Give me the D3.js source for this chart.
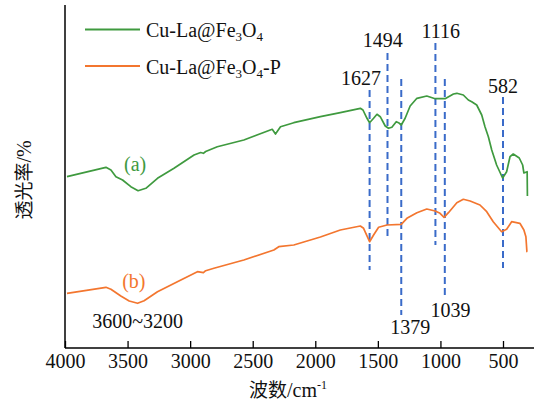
<!DOCTYPE html>
<html><head><meta charset="utf-8">
<script src="https://cdn.jsdelivr.net/npm/d3@7"></script>
<style>body{margin:0;background:#fff}svg{display:block;font-family:'Liberation Serif','Times New Roman',serif}</style>
</head><body>
<svg id="c" width="534" height="403"></svg>
<script>
// ---- data (wavenumber cm-1, transmittance arbitrary units) ----
const seriesNames = ["Cu-La@Fe3O4", "Cu-La@Fe3O4-P"];
const seriesColors = ["#3f9a3f", "#f3762f"];
const waveA = [3984,3673,3633,3593,3540,3474,3416,3354,3261,3129,2969,2916,2894,2876,2783,2571,2344,2318,2278,2172,1959,1800,1640,1619,1587,1566,1534,1507,1481,1441,1415,1388,1353,1335,1313,1282,1242,1188,1109,1042,963,896,869,817,777,750,710,670,644,617,590,551,503,471,444,418,370,343,333,307,305];
const valA  = [171.3,180.7,178,171.3,168,161.3,157.3,159.7,169.7,179.7,193,195.5,194.7,196.5,201.3,208,218.7,214,221.3,225.3,231.3,235.3,239.7,238,229.7,225.3,229.7,233.7,231.3,222,219.7,220.7,226.3,225.3,223,229.7,242,249.7,252,249.3,249.3,254,254.7,253,248,246.3,243,233,221.3,211.3,198,183,170,176.3,191.3,194,190,183,175,176.3,152];
const waveB = [3984,3673,3633,3554,3487,3420,3368,3261,3102,2942,2894,2876,2810,2571,2331,2292,2172,1959,1800,1640,1614,1566,1534,1494,1427,1313,1268,1188,1109,1042,1003,971,936,869,817,763,684,630,578,511,471,431,365,333,317,309,307];
const valB  = [54.7,60.7,58.7,52,47,44.7,47.3,56.3,66.3,76.3,75.3,77.3,79.7,88,98,101.3,103,111,118,122,119.7,106.3,113,120.7,123,123.7,129.7,135.3,139,137,134.7,130.7,135.3,145.3,148.7,147,143,136.3,126.3,116.3,118.7,126.3,124.7,118,111.3,96.3,96.3];
// peak marker lines: drawn position, label, vertical extent, label position
const peakPos    = [1566, 1423, 1313, 1040, 965, 500];
const peakLabels = ["1627", "1494", "1379", "1116", "1039", "582"];
const peakTop    = [258, 295, 269, 305, 269, 251];
const peakBottom = [78, 108, 33, 103, 51, 80];
const peakLabelX = [1634, 1460, 1242, 997, 920, 500];
const peakLabelY = [263, 301, 14, 310, 31, 255];
const xTicks = [4000,3500,3000,2500,2000,1500,1000,500];

const svg = d3.select("#c");
const x = d3.scaleLinear().domain([4000, 500]).range([65, 503]);
const y = d3.scaleLinear().domain([0, 343]).range([348, 5]);
const serif = "'Liberation Serif','Times New Roman',serif";
const cjk = "'Noto Sans CJK SC','Noto Sans',sans-serif";

// axes
const xAxis = d3.axisBottom(x).tickValues(xTicks).tickSize(-7).tickPadding(6).tickFormat(d3.format("d"));
const gx = svg.append("g").attr("transform", "translate(0,348)").call(xAxis)
  .attr("font-family", serif).attr("font-size", 20);
gx.select(".domain").remove();
gx.append("line").attr("x1", 65).attr("x2", 534).attr("y1", 0).attr("y2", 0).attr("stroke", "#000").attr("stroke-width", 1.5);
gx.selectAll(".tick line").attr("stroke", "#000").attr("stroke-width", 1.3);
gx.selectAll(".tick text").attr("font-family", serif).attr("font-size", 20).attr("fill", "#111").attr("dy", "0.71em");
svg.append("line").attr("x1", 65).attr("x2", 65).attr("y1", y(343)).attr("y2", 348).attr("stroke", "#000").attr("stroke-width", 1.5);

// peak dashed lines
peakPos.forEach((p, i) => {
  svg.append("line").attr("x1", x(p)).attr("x2", x(p))
    .attr("y1", y(peakTop[i])).attr("y2", y(peakBottom[i]))
    .attr("stroke", "#3a6bc9").attr("stroke-width", 2).attr("stroke-dasharray", "7,4");
  svg.append("text").attr("x", x(peakLabelX[i])).attr("y", y(peakLabelY[i]))
    .attr("text-anchor", "middle").attr("font-family", serif).attr("font-size", 20).attr("fill", "#111")
    .text(peakLabels[i]);
});

// series
const line = d3.line().x(d => x(d[0])).y(d => y(d[1]));
[[waveA, valA], [waveB, valB]].forEach((s, i) => {
  svg.append("path").datum(s[0].map((w, j) => [w, s[1][j]]))
    .attr("d", line).attr("fill", "none").attr("stroke", seriesColors[i]).attr("stroke-width", 1.7)
    .attr("stroke-linejoin", "round");
});

// series tags
svg.append("text").attr("x", x(3440)).attr("y", y(177)).attr("text-anchor", "middle")
  .attr("font-family", serif).attr("font-size", 20).attr("fill", seriesColors[0]).text("(a)");
svg.append("text").attr("x", x(3450)).attr("y", y(60)).attr("text-anchor", "middle")
  .attr("font-family", serif).attr("font-size", 20).attr("fill", seriesColors[1]).text("(b)");
svg.append("text").attr("x", x(3420)).attr("y", y(20)).attr("text-anchor", "middle")
  .attr("font-family", serif).attr("font-size", 20).attr("fill", "#111").text("3600~3200");

// legend
const legY = [29.5, 66];
seriesNames.forEach((n, i) => {
  svg.append("line").attr("x1", 85).attr("x2", 140).attr("y1", legY[i]).attr("y2", legY[i])
    .attr("stroke", seriesColors[i]).attr("stroke-width", 2);
  const t = svg.append("text").attr("x", 146).attr("y", legY[i] + 7.5)
    .attr("font-family", serif).attr("font-size", 20).attr("fill", "#111");
  t.append("tspan").text("Cu-La@Fe");
  t.append("tspan").attr("font-size", 13).attr("dy", 4).text("3");
  t.append("tspan").attr("dy", -4).text("O");
  t.append("tspan").attr("font-size", 13).attr("dy", 4).text("4");
  if (i === 1) t.append("tspan").attr("dy", -4).text("-P");
});

// axis titles
const xt = svg.append("text").attr("x", 288).attr("y", 397).attr("text-anchor", "middle")
  .attr("font-size", 19).attr("fill", "#111");
xt.append("tspan").attr("font-family", cjk).text("波数");
xt.append("tspan").attr("font-family", serif).attr("font-size", 20).text("/cm");
xt.append("tspan").attr("font-family", serif).attr("font-size", 12).attr("dy", -8).text("-1");

const yt = svg.append("text").attr("transform", "translate(31,180) rotate(-90)").attr("text-anchor", "middle")
  .attr("font-size", 19).attr("fill", "#111");
yt.append("tspan").attr("font-family", cjk).text("透光率");
yt.append("tspan").attr("font-family", serif).attr("font-size", 20).text("/%");
</script>
</body></html>
